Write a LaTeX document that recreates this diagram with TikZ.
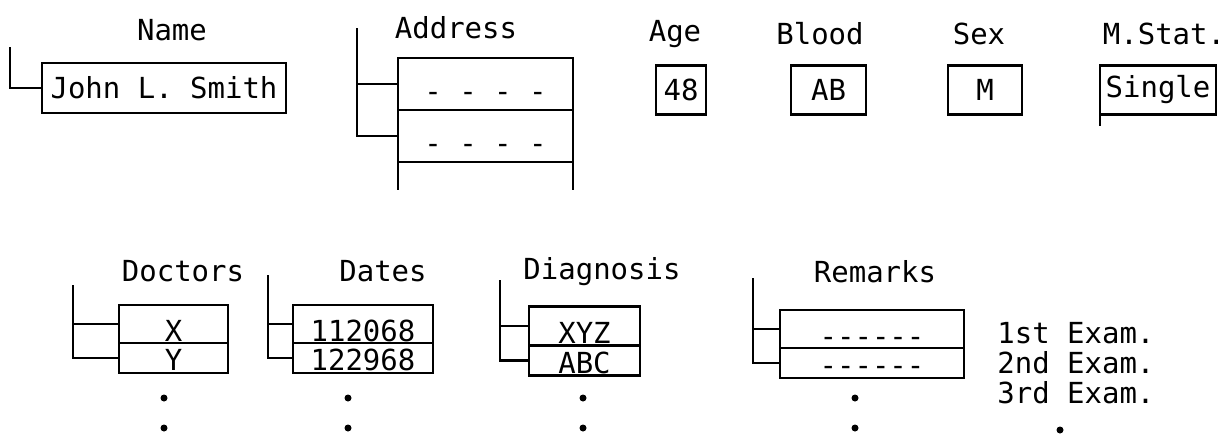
\documentclass[tikz,border=0pt]{standalone}
\usepackage{fontspec}
\newfontfamily\typewr{DejaVu Sans Mono}
\usetikzlibrary{positioning}
\tikzset{
  every node/.style={font={\typewr\fontsize{16.5}{18}\selectfont}},
  rule/.style={line width=1.3pt},
  head/.style={inner sep=0pt},
  field/.style={draw,line width=1.3pt,inner sep=0pt,outer sep=0pt},
  % text sitting on the lower line of a row
  onrule/.style={field,text height=#1,text depth=0pt},
  onrule/.default=0.7cm,
  dot/.style={fill=black},
}

\begin{document}
\begin{tikzpicture}[x=0.02cm,y=-0.02cm]
  \useasboundingbox (0,0) rectangle (1227,433);

  % personal data
  \node[head] (nameL) at (172,30) {Name};
  \node[field,minimum width=4.88cm,minimum height=1.0cm] (name) at (164,88) {John L. Smith};
  \coordinate (nameT) at (10,47);
  \draw[rule] (nameT) |- (name.west);

  \node[head] (addrL) at (456,28) {Address};
  \node[onrule,minimum width=3.5cm,minimum height=1.04cm] (addr1) at (485.5,84) {- - - -};
  \node[onrule,minimum width=3.5cm,minimum height=1.04cm,below=0pt of addr1] (addr2) {- - - -};
  \draw[rule] (addr2.south west) -- ++(0,28);
  \draw[rule] (addr2.south east) -- ++(0,28);
  \coordinate (addrT) at (357,28);
  \draw[rule] (addrT) |- (addr2.west);
  \draw[rule] (addrT |- addr1.west) -- (addr1.west);

  \node[head] (ageL) at (675,34) {Age};
  \node[field,minimum width=1.0cm,minimum height=0.98cm] (age) at (681,90) {48};
  \node[head] (bloodL) at (820,34) {Blood};
  \node[field,minimum width=1.5cm,minimum height=0.98cm] (blood) at (828.5,90) {AB};
  \node[head] (sexL) at (979,34) {Sex};
  \node[field,minimum width=1.48cm,minimum height=0.98cm] (sex) at (985,90) {M};
  \node[head] (statL) at (1164,34) {M.Stat.};
  \node[field,minimum width=2.32cm,minimum height=0.98cm] (stat) at (1158,90) {Single};
  \draw[rule] (stat.south west) -- ++(0,12);

  % exam records
  \node[head] (docL) at (183,271) {Doctors};
  \node[onrule,minimum width=2.18cm,minimum height=0.76cm] (doc1) at (173.5,324) {X};
  \node[onrule=0.52cm,minimum width=2.18cm,minimum height=0.6cm,below=0pt of doc1] (doc2) {Y};
  \coordinate (docT) at (73,285);
  \draw[rule] (docT) |- (doc2.west);
  \draw[rule] (docT |- doc1.west) -- (doc1.west);

  \node[head] (dateL) at (383,271) {Dates};
  \node[onrule,minimum width=2.8cm,minimum height=0.76cm] (date1) at (363,324) {112068};
  \node[onrule=0.52cm,minimum width=2.8cm,minimum height=0.6cm,below=0pt of date1] (date2) {122968};
  \coordinate (dateT) at (268,275);
  \draw[rule] (dateT) |- (date2.west);
  \draw[rule] (dateT |- date1.west) -- (date1.west);

  \node[head] (diagL) at (602,272) {Diagnosis};
  \node[onrule,minimum width=2.22cm,minimum height=0.78cm] (diag1) at (584.5,326) {XYZ};
  \node[onrule=0.52cm,minimum width=2.22cm,minimum height=0.6cm,below=0pt of diag1] (diag2) {ABC};
  \coordinate (diagT) at (500,280);
  \draw[rule] (diagT) |- (diag2.west);
  \draw[rule] (diagT |- diag1.west) -- (diag1.west);

  \node[head] (remL) at (875,272) {Remarks};
  \node[onrule,minimum width=3.68cm,minimum height=0.76cm] (rem1) at (872,329) {------};
  \node[onrule=0.52cm,minimum width=3.68cm,minimum height=0.6cm,below=0pt of rem1] (rem2) {------};
  \coordinate (remT) at (753,278);
  \draw[rule] (remT) |- (rem2.west);
  \draw[rule] (remT |- rem1.west) -- (rem1.west);

  \node[head,anchor=west] (ex1) at (997,333) {1st Exam.};
  \node[head,anchor=west] (ex2) at (997,363) {2nd Exam.};
  \node[head,anchor=west] (ex3) at (997,393) {3rd Exam.};

  \foreach \x in {164,348,583,855}
    \foreach \y in {398,428}
      \fill[dot] (\x,\y) circle (0.07cm);
  \fill[dot] (1060,430) circle (0.07cm);
\end{tikzpicture}
\end{document}
